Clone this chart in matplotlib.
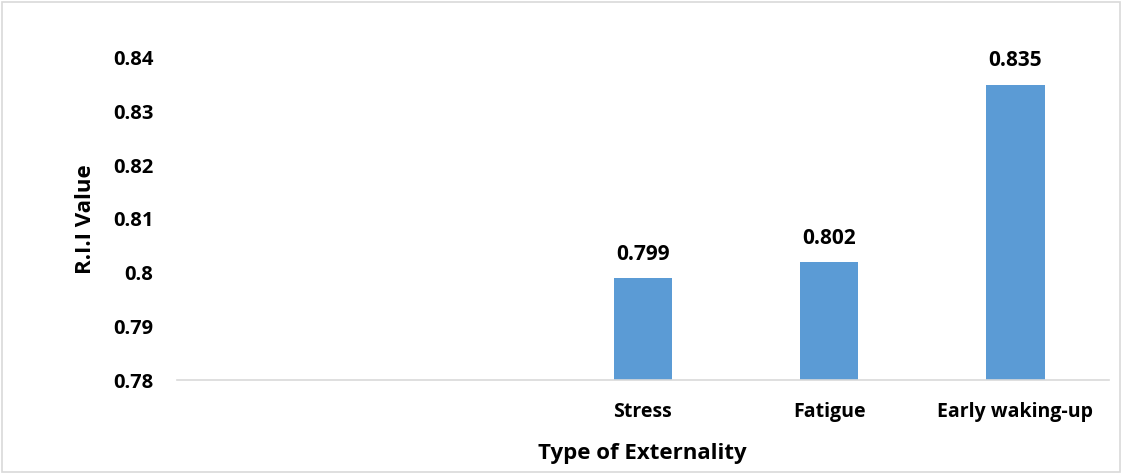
import matplotlib.pyplot as plt
from matplotlib.patches import Rectangle

# R.I.I values per externality (first two category slots are blank)
categories = ["", "", "Stress", "Fatigue", "Early waking-up"]
rii_values = [None, None, 0.799, 0.802, 0.835]
value_labels = ["", "", "0.799", "0.802", "0.835"]
y_ticks = [0.78, 0.79, 0.80, 0.81, 0.82, 0.83, 0.84]
y_tick_labels = ["0.78", "0.79", "0.8", "0.81", "0.82", "0.83", "0.84"]

plt.rcParams['font.family'] = ['Open Sans', 'DejaVu Sans']
plt.rcParams['font.weight'] = 'bold'

fig = plt.figure(figsize=(11.22, 4.74), dpi=100)
ax = fig.add_axes([0.1578, 0.198, 0.8302, 0.68])

bar_color = "#5B9BD5"
base = 0.78
for i, v in enumerate(rii_values):
    if v is None:
        continue
    ax.bar(i, v - base, bottom=base, width=0.313, color=bar_color, edgecolor="none")
    ax.text(i, v + 0.0025, value_labels[i], ha="center", va="bottom",
            fontsize=15, fontweight="bold")

ax.set_xlim(-0.5, len(categories) - 0.5)
ax.set_ylim(0.78, 0.84)
ax.set_xticks(range(len(categories)))
ax.set_xticklabels(categories, fontsize=14, fontweight="bold")
ax.set_yticks(y_ticks)
ax.set_yticklabels(y_tick_labels, fontsize=14.5, fontweight="bold")
ax.tick_params(axis="x", length=0, pad=16)
ax.tick_params(axis="y", length=0, pad=17)

for side in ["top", "right", "left"]:
    ax.spines[side].set_visible(False)
ax.spines["bottom"].set_color("#D9D9D9")
ax.spines["bottom"].set_linewidth(1.2)

ax.set_xlabel("Type of Externality", fontsize=16, fontweight="bold", labelpad=15)
ax.set_ylabel("R.I.I Value", fontsize=16, fontweight="bold", labelpad=12)

# light frame around the whole chart
fig.patches.append(Rectangle((0.002, 0.004), 0.996, 0.992, transform=fig.transFigure,
                             fill=False, edgecolor="#D9D9D9", linewidth=1.2))

fig.savefig("out.png", dpi=100)
